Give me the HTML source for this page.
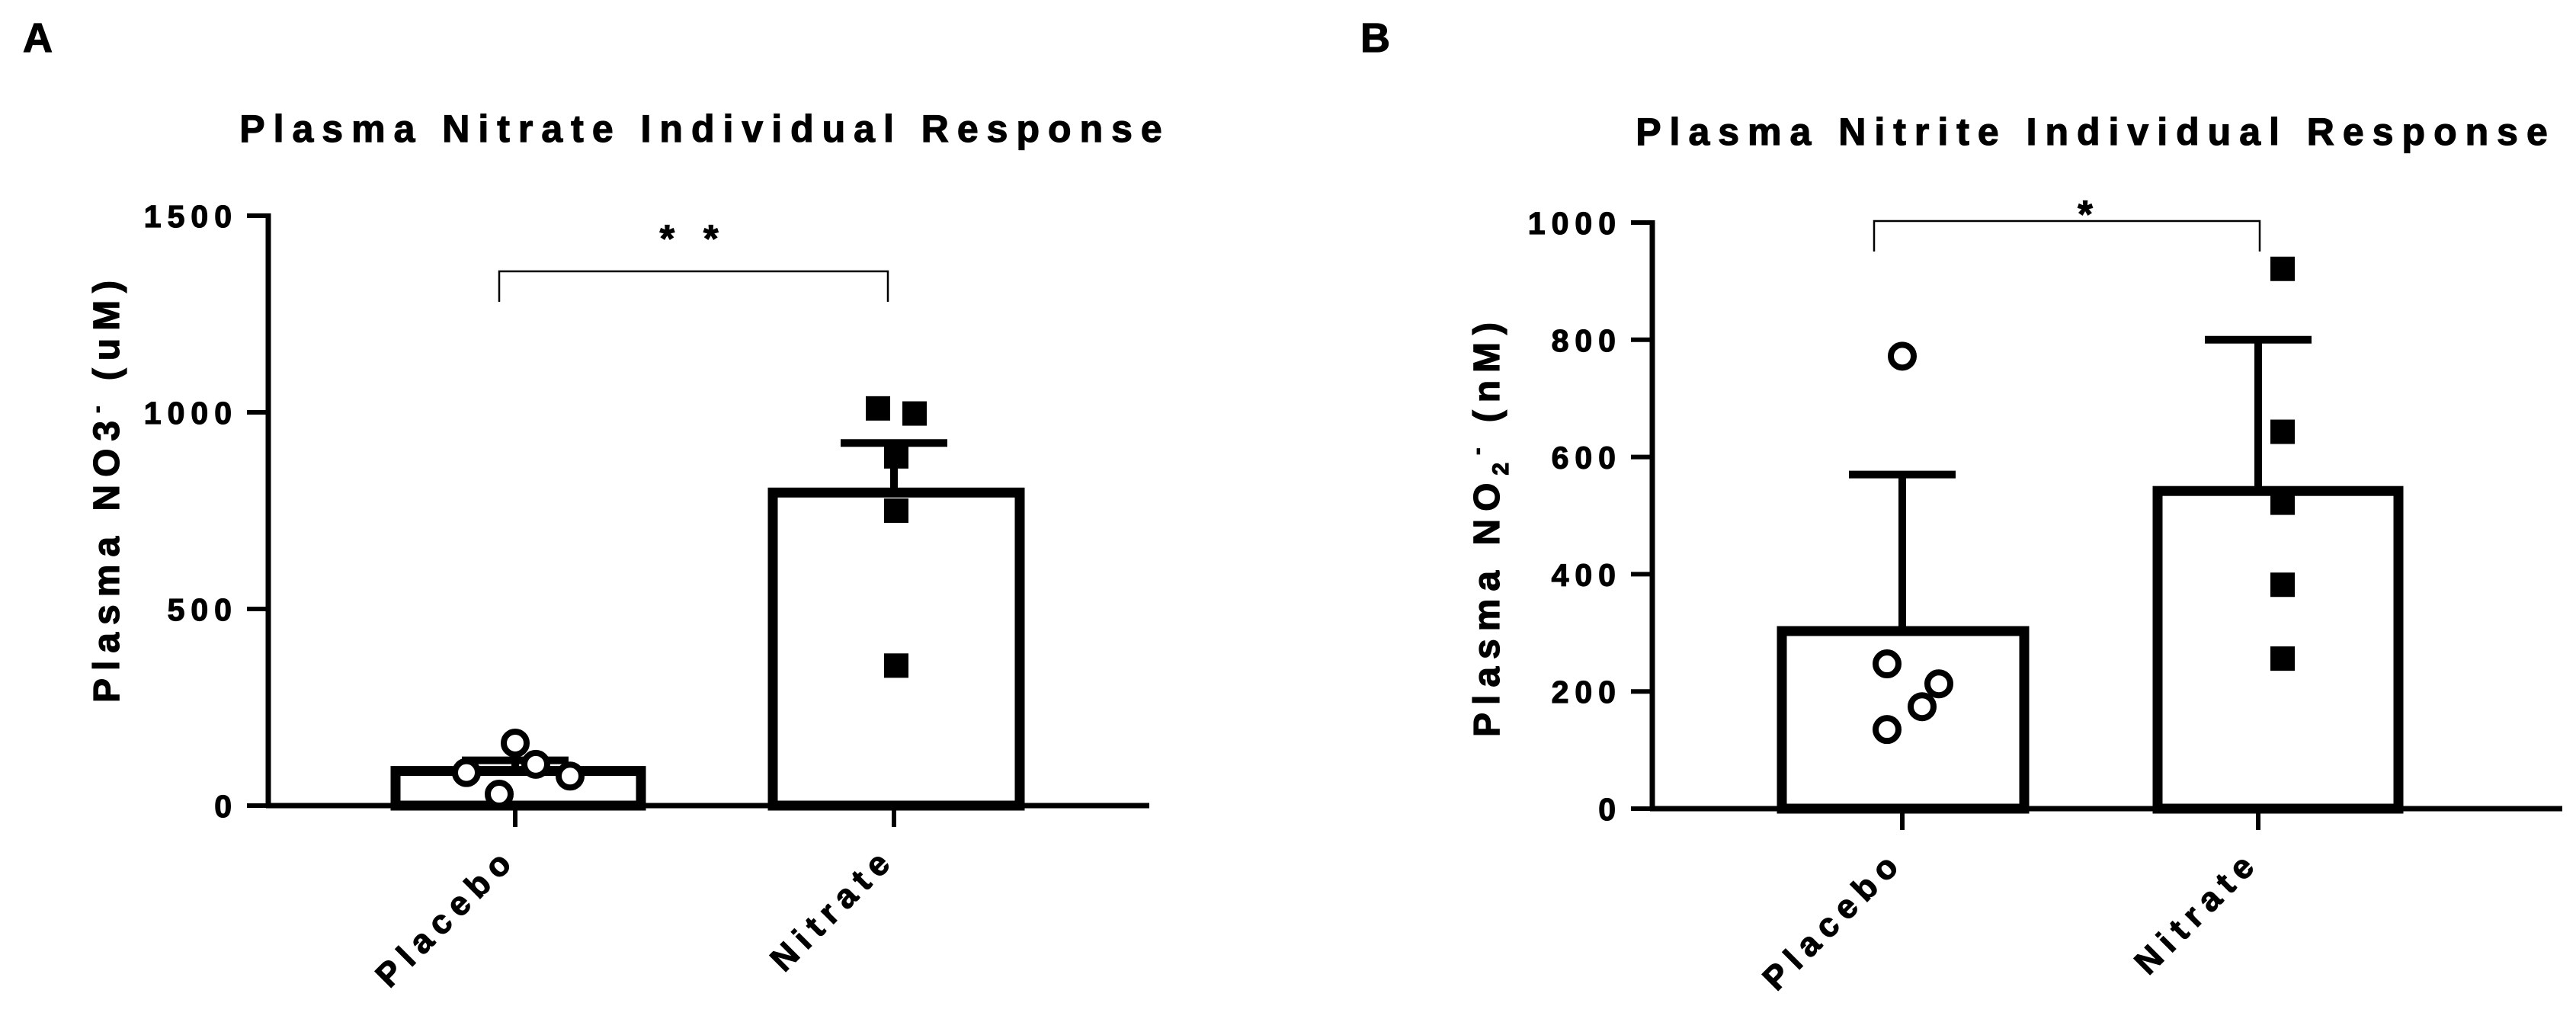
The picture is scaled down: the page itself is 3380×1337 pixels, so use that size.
<!DOCTYPE html>
<html><head><meta charset="utf-8"><style>
html,body{margin:0;padding:0;background:#fff;}
svg{display:block;font-family:"Liberation Sans",Arial,sans-serif;font-weight:bold;}
text{stroke:#000;stroke-width:1.2;}
</style></head><body>
<svg id="fig" width="3380" height="1337" viewBox="0 0 3380 1337" xmlns="http://www.w3.org/2000/svg">
<text x="30" y="68" font-size="54">A</text>
<text x="1785" y="68" font-size="54">B</text>
<text x="925" y="186" font-size="50" text-anchor="middle" letter-spacing="11">Plasma Nitrate Individual Response</text>
<text x="2750" y="190" font-size="50" text-anchor="middle" letter-spacing="11">Plasma Nitrite Individual Response</text>
<text transform="translate(156,640) rotate(-90)" font-size="48" text-anchor="middle" letter-spacing="10">Plasma NO3<tspan dy="-20" font-size="28">-</tspan><tspan dy="20"> (uM)</tspan></text>
<text transform="translate(1967,690) rotate(-90)" font-size="48" text-anchor="middle" letter-spacing="10">Plasma NO<tspan dy="12" font-size="30">2</tspan><tspan dy="-32" font-size="28">-</tspan><tspan dy="20"> (nM)</tspan></text>
<g id="ga"></g>
<g id="gb"></g>
</svg>
<script>
const NS="http://www.w3.org/2000/svg";
const categories=["Placebo","Nitrate"];
const aTicks=[0,500,1000,1500];
const aMeans=[88,796];
const aErr=[115,922];
const aPlacebo=[84,159,105,75,29];
const aNitrate=[1010,997,888,750,356];
const bTicks=[0,200,400,600,800,1000];
const bMeans=[303,542];
const bErr=[570,800];
const bPlacebo=[772,247,213,174,135];
const bNitrate=[921,643,522,382,256];

function mk(g,tag,attrs){const e=document.createElementNS(NS,tag);for(const k in attrs)e.setAttribute(k,attrs[k]);g.appendChild(e);return e;}

function panel(g,cfg){
  const y=v=>cfg.y0-(v/cfg.max)*(cfg.y0-cfg.yTop);
  let e=mk(g,'line',{x1:cfg.ax,y1:y(cfg.max)-3,x2:cfg.ax,y2:cfg.y0+3,stroke:'#000','stroke-width':7});
  
  
  e=mk(g,'line',{x1:cfg.ax-3,y1:cfg.y0,x2:cfg.axEnd,y2:cfg.y0,stroke:'#000','stroke-width':7});
  
  
  cfg.ticks.forEach(t=>{
    let l=mk(g,'line',{x1:cfg.ax-28,y1:y(t),x2:cfg.ax,y2:y(t),stroke:'#000','stroke-width':6});
    
    
    let tx=mk(g,'text',{x:cfg.ax-40,y:y(t)+15,'font-size':41,'text-anchor':'end','letter-spacing':8});
    tx.textContent=t;
    
    
  });
  categories.forEach((c,i)=>{
    const cx=cfg.cx[i];
    let r=mk(g,'rect',{x:cfg.bx[i][0],y:y(cfg.means[i]),width:cfg.bx[i][1]-cfg.bx[i][0],height:cfg.y0-y(cfg.means[i]),fill:'#fff',stroke:'#000','stroke-width':13});
    
    
    let ev=mk(g,'line',{x1:cx,y1:y(cfg.means[i]),x2:cx,y2:y(cfg.err[i]),stroke:'#000','stroke-width':10});
    
    
    let ec=mk(g,'line',{x1:cx-70,y1:y(cfg.err[i]),x2:cx+70,y2:y(cfg.err[i]),stroke:'#000','stroke-width':10});
    
    
    let tk=mk(g,'line',{x1:cx,y1:cfg.y0,x2:cx,y2:cfg.y0+28,stroke:'#000','stroke-width':6});
    
    
    let lb=mk(g,'text',{transform:`translate(${cx+4},${cfg.y0+72}) rotate(-45)`,'font-size':44,'text-anchor':'end','letter-spacing':10});
    lb.textContent=c;
    
    
  });
  cfg.pv.forEach((v,j)=>{
    let p=mk(g,'circle',{cx:cfg.pxs[j],cy:y(v),r:15,fill:'#fff',stroke:'#000','stroke-width':8});
    
    
  });
  cfg.nv.forEach((v,j)=>{
    let p=mk(g,'rect',{x:cfg.nxs[j]-16,y:y(v)-16,width:32,height:32,fill:'#000'});
    
    
  });
  const b=cfg.br;
  let br=mk(g,'path',{d:`M${b[0]},${b[3]} V${b[2]} H${b[1]} V${b[3]}`,fill:'none',stroke:'#000','stroke-width':2.5});
  
  
  let st=mk(g,'text',{x:b[4],y:b[5],'font-size':50,'text-anchor':'middle','letter-spacing':12});
  st.textContent=cfg.stars;
  
  
}
panel(document.getElementById('ga'),{ax:352,axEnd:1508,y0:1057,yTop:283,max:1500,ticks:aTicks,means:aMeans,err:aErr,
  cx:[676,1173],bx:[[519,841],[1014,1338]],pv:aPlacebo,pxs:[612,676,703,748,655],nv:aNitrate,nxs:[1152,1200,1176,1176,1176],
  br:[655,1165,356,396,910,330],stars:"* *"});
panel(document.getElementById('gb'),{ax:2168,axEnd:3362,y0:1061,yTop:292,max:1000,ticks:bTicks,means:bMeans,err:bErr,
  cx:[2496,2963],bx:[[2338,2656],[2831,3147]],pv:bPlacebo,pxs:[2496,2476,2544,2522,2476],nv:bNitrate,nxs:[2995,2995,2995,2995,2995],
  br:[2459,2965,290,330,2742,298],stars:"*"});
</script>
</body></html>
